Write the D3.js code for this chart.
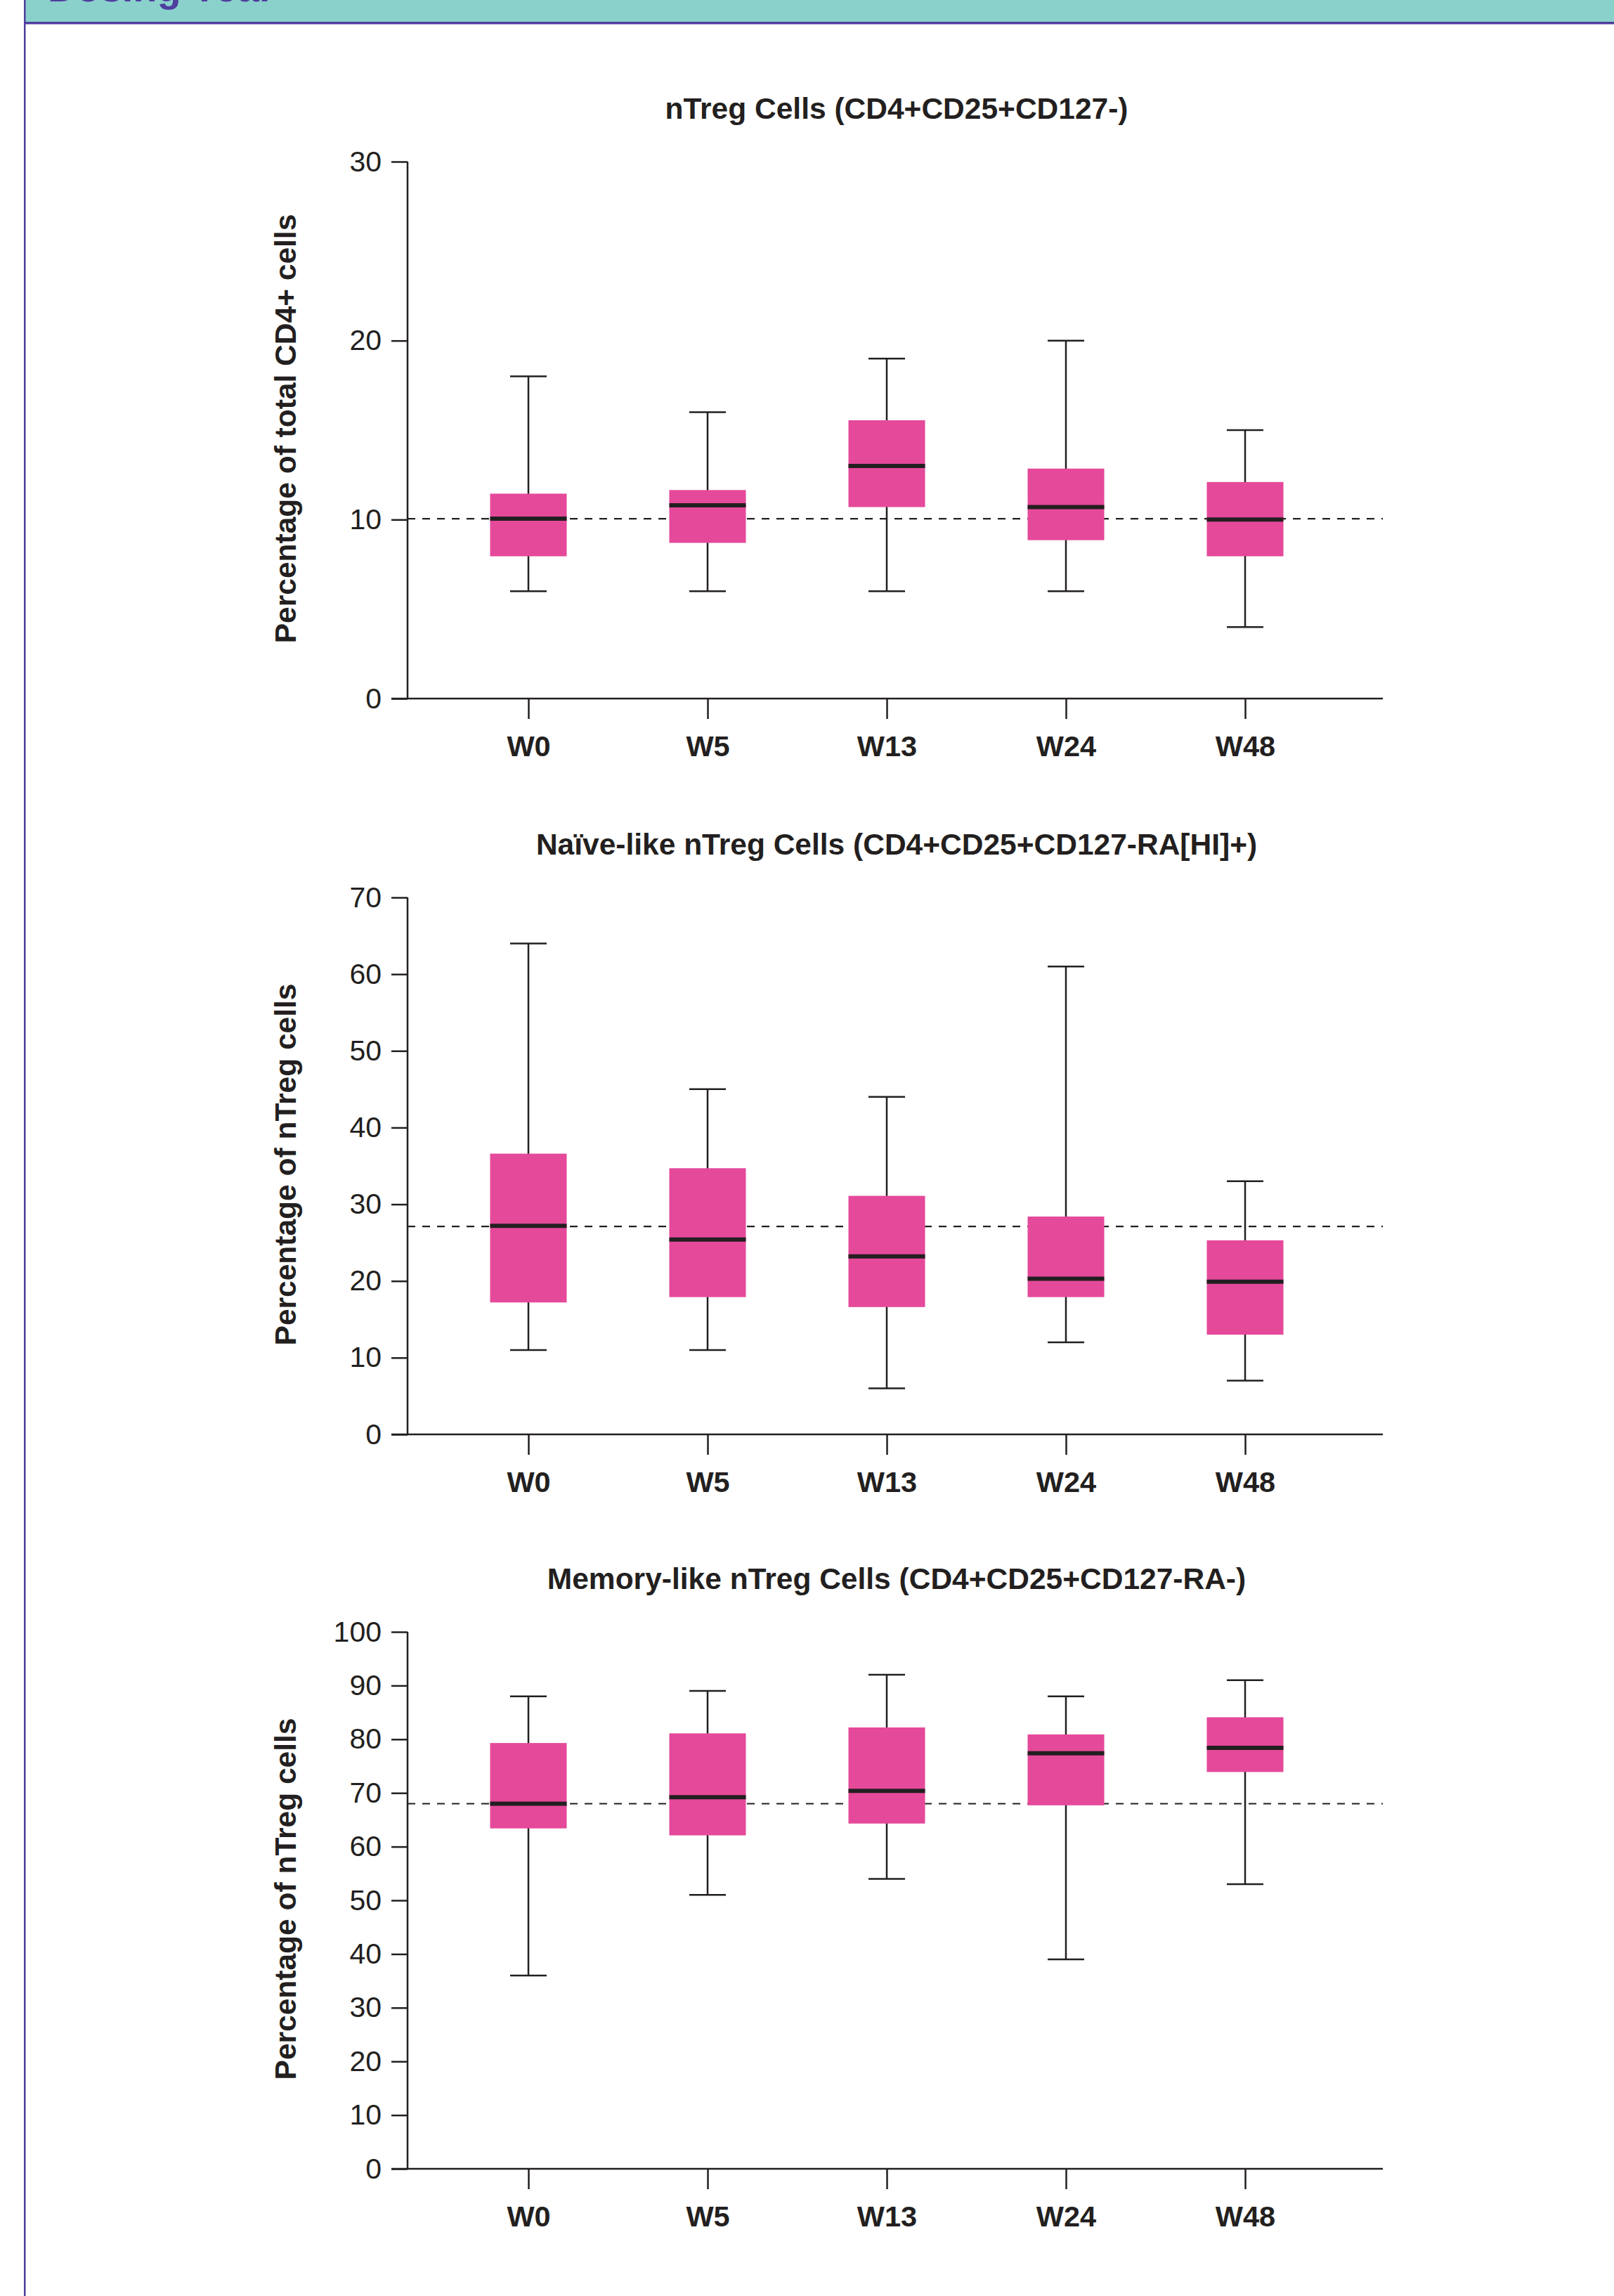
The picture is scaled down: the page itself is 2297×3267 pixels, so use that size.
<!DOCTYPE html>
<html>
<head>
<meta charset="utf-8">
<title>nTreg cell subsets by visit</title>
<script src="https://cdn.jsdelivr.net/npm/d3@7"></script>
<style>
  html, body { margin: 0; padding: 0; background: #ffffff; }
  svg { display: block; }
  text { font-family: "Liberation Sans", Arial, Helvetica, sans-serif; fill: #231f20; }
</style>
</head>
<body>
<div id="chart"></div>
<script>
// Visits shared by all three panels
const categories = ["W0", "W5", "W13", "W24", "W48"];

// Panel 1: nTreg cells, % of total CD4+ cells
const ntregMin    = [6, 6, 6, 6, 4];
const ntregQ1     = [7.95, 8.7, 10.7, 8.85, 7.95];
const ntregMedian = [10.05, 10.8, 13.0, 10.7, 10.0];
const ntregQ3     = [11.45, 11.65, 15.55, 12.85, 12.1];
const ntregMax    = [18, 16, 19, 20, 15];
const ntregBaseline = 10.05;
const ntregTicks  = [0, 10, 20, 30];

// Panel 2: naive-like nTreg cells, % of nTreg cells
const naiveMin    = [11, 11, 6, 12, 7];
const naiveQ1     = [17.2, 17.9, 16.6, 17.9, 13.0];
const naiveMedian = [27.2, 25.4, 23.2, 20.3, 19.9];
const naiveQ3     = [36.6, 34.7, 31.1, 28.4, 25.3];
const naiveMax    = [64, 45, 44, 61, 33];
const naiveBaseline = 27.1;
const naiveTicks  = [0, 10, 20, 30, 40, 50, 60, 70];

// Panel 3: memory-like nTreg cells, % of nTreg cells
const memoryMin    = [36, 51, 54, 39, 53];
const memoryQ1     = [63.4, 62.1, 64.3, 67.7, 73.9];
const memoryMedian = [68.0, 69.2, 70.4, 77.4, 78.4];
const memoryQ3     = [79.3, 81.1, 82.2, 80.9, 84.1];
const memoryMax    = [88, 89, 92, 88, 91];
const memoryBaseline = 68.0;
const memoryTicks  = [0, 10, 20, 30, 40, 50, 60, 70, 80, 90, 100];

const panels = [
  { title: "nTreg Cells (CD4+CD25+CD127-)", yTitle: "Percentage of total CD4+ cells",
    min: ntregMin, q1: ntregQ1, median: ntregMedian, q3: ntregQ3, max: ntregMax,
    baseline: ntregBaseline, ticks: ntregTicks, top: 230 },
  { title: "Naïve-like nTreg Cells (CD4+CD25+CD127-RA[HI]+)", yTitle: "Percentage of nTreg cells",
    min: naiveMin, q1: naiveQ1, median: naiveMedian, q3: naiveQ3, max: naiveMax,
    baseline: naiveBaseline, ticks: naiveTicks, top: 1277 },
  { title: "Memory-like nTreg Cells (CD4+CD25+CD127-RA-)", yTitle: "Percentage of nTreg cells",
    min: memoryMin, q1: memoryQ1, median: memoryMedian, q3: memoryQ3, max: memoryMax,
    baseline: memoryBaseline, ticks: memoryTicks, top: 2322 }
];

const W = 2297, H = 3267;
const ink = "#231f20";
const boxFill = "#e5499a";
const teal = "#8ad1cc";
const purple = "#4f3e9e";

const plotLeft = 580, plotRight = 1968, plotHeight = 764;
const tickLen = 23;
const boxWidth = 109, capWidth = 52;

const svg = d3.select("#chart").append("svg")
  .attr("width", W).attr("height", H)
  .attr("viewBox", `0 0 ${W} ${H}`);

// Section header band; its heading runs off the top of the page
svg.append("rect").attr("x", 35).attr("y", 0).attr("width", W - 35).attr("height", 32)
  .attr("fill", teal);
svg.append("text").attr("x", 68).attr("y", 2)
  .attr("font-size", 56).attr("font-weight", "bold")
  .style("fill", purple)
  .text("Dosing Year");
svg.append("rect").attr("x", 35).attr("y", 31).attr("width", W - 35).attr("height", 3.5)
  .attr("fill", purple);
svg.append("rect").attr("x", 34).attr("y", 0).attr("width", 2.5).attr("height", H)
  .attr("fill", purple);

const x = d3.scalePoint().domain(categories).range([752, 1772]);

panels.forEach(p => {
  const top = p.top, bottom = top + plotHeight;
  const yMax = p.ticks[p.ticks.length - 1];
  const y = d3.scaleLinear().domain([0, yMax]).range([bottom, top]);
  const g = svg.append("g");

  // Title
  g.append("text")
    .attr("x", (plotLeft + plotRight) / 2 + 2).attr("y", top - 61)
    .attr("text-anchor", "middle")
    .attr("font-size", 42.5).attr("font-weight", "bold")
    .text(p.title);

  // Y axis title
  g.append("text")
    .attr("transform", `translate(421, ${(top + bottom) / 2 - 2}) rotate(-90)`)
    .attr("text-anchor", "middle")
    .attr("font-size", 42.5).attr("font-weight", "bold")
    .text(p.yTitle);

  // Y axis
  const yAxis = d3.axisLeft(y).tickValues(p.ticks).tickSize(tickLen).tickPadding(14)
    .tickFormat(d3.format("d"));
  const ya = g.append("g").attr("transform", `translate(${plotLeft},0)`).call(yAxis);
  ya.select(".domain").attr("d", `M0,${top}V${bottom}`);
  ya.selectAll("line, path").attr("stroke", ink).attr("stroke-width", 2.5);
  ya.selectAll("text").attr("font-size", 41).style("fill", ink)
    .attr("font-family", "Liberation Sans, Arial, sans-serif");

  // X axis
  const xAxis = d3.axisBottom(x).tickSize(29).tickPadding(24);
  const xa = g.append("g").attr("transform", `translate(0,${bottom})`).call(xAxis);
  xa.select(".domain").attr("d", `M${plotLeft - tickLen},0H${plotRight}`);
  xa.selectAll("line, path").attr("stroke", ink).attr("stroke-width", 2.5);
  xa.selectAll("text").attr("font-size", 41.5).attr("font-weight", "bold").style("fill", ink);

  // Dashed reference line at the baseline median
  g.append("line")
    .attr("x1", plotLeft).attr("x2", plotRight)
    .attr("y1", y(p.baseline)).attr("y2", y(p.baseline))
    .attr("stroke", ink).attr("stroke-width", 2.2)
    .attr("stroke-dasharray", "11,10");

  const rows = categories.map((c, i) => ({
    c, min: p.min[i], q1: p.q1[i], median: p.median[i], q3: p.q3[i], max: p.max[i]
  }));

  const box = g.selectAll(".box").data(rows).enter().append("g").attr("class", "box");

  // Whiskers
  box.append("line")
    .attr("x1", d => x(d.c)).attr("x2", d => x(d.c))
    .attr("y1", d => y(d.max)).attr("y2", d => y(d.min))
    .attr("stroke", ink).attr("stroke-width", 2.5);
  box.append("line")
    .attr("x1", d => x(d.c) - capWidth / 2).attr("x2", d => x(d.c) + capWidth / 2)
    .attr("y1", d => y(d.max)).attr("y2", d => y(d.max))
    .attr("stroke", ink).attr("stroke-width", 2.5);
  box.append("line")
    .attr("x1", d => x(d.c) - capWidth / 2).attr("x2", d => x(d.c) + capWidth / 2)
    .attr("y1", d => y(d.min)).attr("y2", d => y(d.min))
    .attr("stroke", ink).attr("stroke-width", 2.5);

  // Interquartile box
  box.append("rect")
    .attr("x", d => x(d.c) - boxWidth / 2).attr("width", boxWidth)
    .attr("y", d => y(d.q3)).attr("height", d => y(d.q1) - y(d.q3))
    .attr("fill", boxFill);

  // Median
  box.append("line")
    .attr("x1", d => x(d.c) - boxWidth / 2).attr("x2", d => x(d.c) + boxWidth / 2)
    .attr("y1", d => y(d.median)).attr("y2", d => y(d.median))
    .attr("stroke", ink).attr("stroke-width", 6);
});
</script>
</body>
</html>
